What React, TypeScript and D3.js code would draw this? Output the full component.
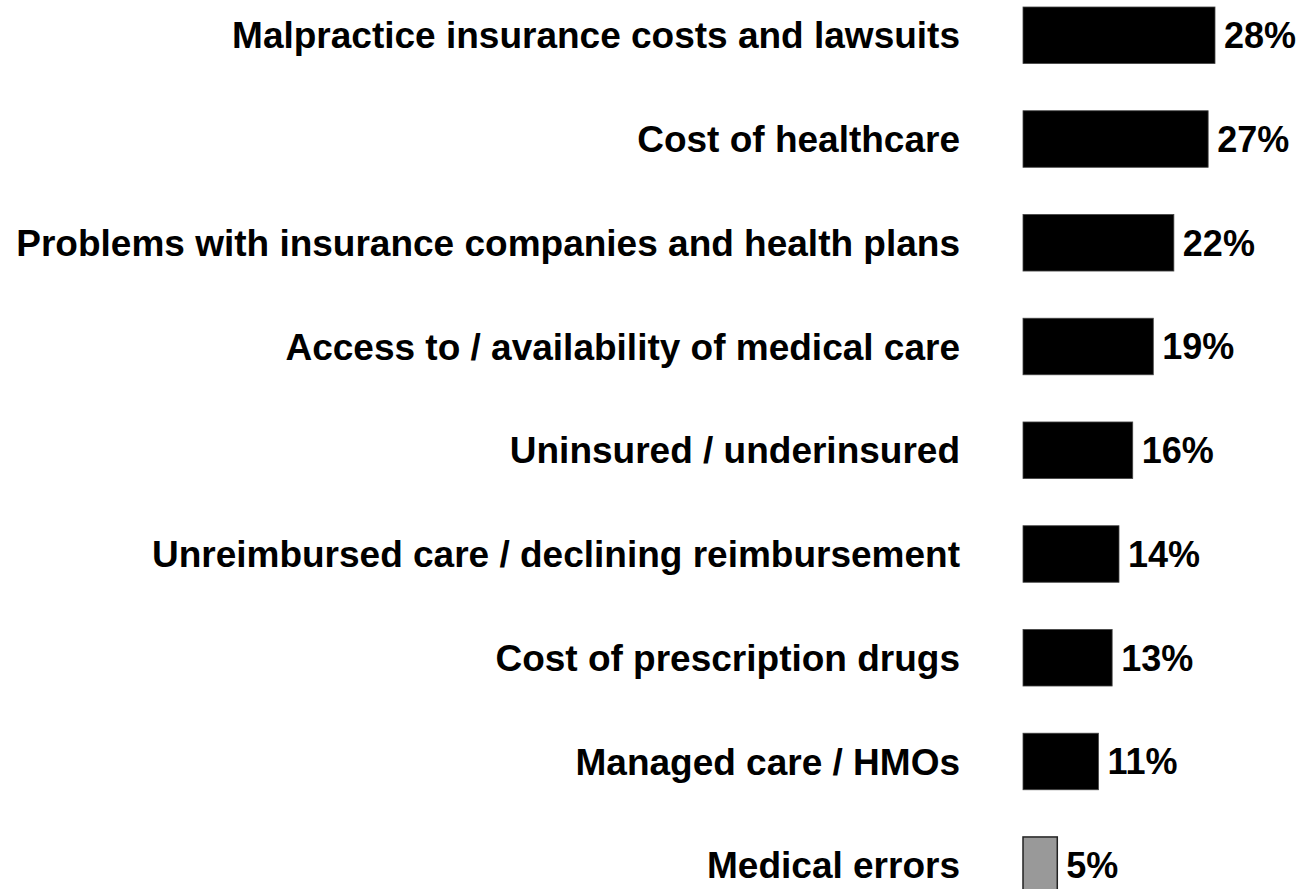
import React from "react";
import * as d3 from "d3";

const categories: string[] = [
  "Malpractice insurance costs and lawsuits",
  "Cost of healthcare",
  "Problems with insurance companies and health plans",
  "Access to / availability of medical care",
  "Uninsured / underinsured",
  "Unreimbursed care / declining reimbursement",
  "Cost of prescription drugs",
  "Managed care / HMOs",
  "Medical errors",
];
const values: number[] = [28, 27, 22, 19, 16, 14, 13, 11, 5];
const highlighted: boolean[] = [true, true, true, true, true, true, true, true, false];

const W = 1299;
const H = 889;
const FONT = "'Liberation Sans', Arial, Helvetica, sans-serif";

export default function App() {
  const y = d3
    .scaleBand<string>()
    .domain(categories)
    .range([7, 7 + 8 * 103.75 + 56.5])
    .paddingInner(0.455)
    .paddingOuter(0);
  const x = d3.scaleLinear().domain([0, 28]).range([1023, 1215]);
  const catFs = 37;
  const valFs = 36;

  return (
    <svg
      width={W}
      height={H}
      style={{ position: "absolute", left: 0, top: 0, background: "#fff" }}
    >
      {categories.map((c, i) => {
        const y0 = y(c)!;
        const bw = y.bandwidth();
        const cy = y0 + bw / 2;
        const v = values[i];
        return (
          <g key={c}>
            <text
              x={960}
              y={cy + 0.355 * catFs}
              textAnchor="end"
              fontFamily={FONT}
              fontWeight="bold"
              fontSize={catFs}
              fill="#000"
            >
              {c}
            </text>
            <rect
              x={x(0)}
              y={y0}
              width={x(v) - x(0)}
              height={bw}
              fill={highlighted[i] ? "#000" : "#999999"}
              stroke={highlighted[i] ? "#444" : "#222"}
              strokeWidth={highlighted[i] ? 0.8 : 1.5}
            />
            <text
              x={x(v) + 9}
              y={cy + 0.36 * valFs}
              fontFamily={FONT}
              fontWeight="bold"
              fontSize={valFs}
              fill="#000"
            >
              {v}%
            </text>
          </g>
        );
      })}
    </svg>
  );
}
